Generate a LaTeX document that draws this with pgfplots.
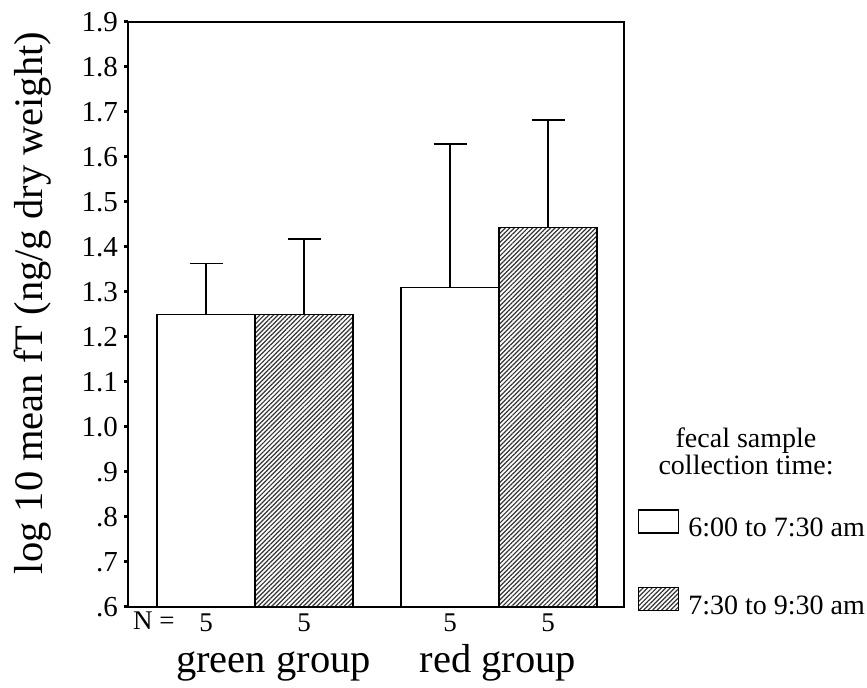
\documentclass[border=0pt]{standalone}
\usepackage{pgfplots}
\pgfplotsset{compat=1.18}
\usepackage{fontspec}
\setmainfont{Liberation Serif}
\usetikzlibrary{patterns.meta}

\begin{document}
\begin{tikzpicture}[x=1bp,y=1bp]
\useasboundingbox (0,0) rectangle (867,688);
\begin{axis}[
  at={(128bp,81bp)}, anchor=south west,
  scale only axis, width=496bp, height=585bp,
  xmin=0, xmax=496, ymin=0.6, ymax=1.9,
  axis line style={line width=1.5bp, black},
  ytick={0.6,0.7,0.8,0.9,1.0,1.1,1.2,1.3,1.4,1.5,1.6,1.7,1.8,1.9},
  yticklabels={.6,.7,.8,.9,1.0,1.1,1.2,1.3,1.4,1.5,1.6,1.7,1.8,1.9},
  ytick pos=left, xtick pos=bottom,
  tick align=outside,
  major tick length=4bp,
  y tick style={line width=3bp, black},
  yticklabel style={font=\fontsize{29bp}{32bp}\selectfont, inner xsep=2bp, xshift=-4bp},
  xtick={78,176,322,420}, xticklabels={5,5,5,5},
  x tick style={draw=none},
  xticklabel style={font=\fontsize{27bp}{30bp}\selectfont, anchor=base, yshift=-21bp},
  ybar, bar shift=0pt, bar width=98,
  legend cell align=left,
  legend image code/.code={\draw[#1] (0bp,-5bp) rectangle (40bp,18bp); \path (49bp,0bp);},
  legend style={draw=none, fill=none, inner sep=0pt, nodes={inner sep=0pt},
    at={(rel axis cs:1.028,0.1675)}, anchor=north west, row sep=49bp,
    font=\fontsize{28bp}{32bp}\selectfont},
]
\addplot[ybar, fill=white, draw=black, line width=1.3bp,
  error bars/.cd, y dir=plus, y explicit,
  error bar style={line width=1.4bp, black},
  error mark options={rotate=90, mark size=16.5bp, line width=1.4bp, black}]
  coordinates {(78,1.25) +- (0,0.113) (322,1.31) +- (0,0.319)};
\addlegendentry{6:00 to 7:30 am}
\addplot[ybar, fill=white, draw=black, line width=1.3bp,
  pattern={Lines[angle=45,distance=3.2bp,line width=1.2bp]}, pattern color=black!80,
  error bars/.cd, y dir=plus, y explicit,
  error bar style={line width=1.4bp, black},
  error mark options={rotate=90, mark size=16.5bp, line width=1.4bp, black}]
  coordinates {(176,1.25) +- (0,0.168) (420,1.444) +- (0,0.238)};
\addlegendentry{7:30 to 9:30 am}
\end{axis}
\node[rotate=90, anchor=base, font=\fontsize{40.5bp}{45bp}\selectfont] at (42,385) {log 10 mean fT (ng/g dry weight)};
\node[anchor=base west, inner sep=0pt, font=\fontsize{27bp}{30bp}\selectfont] at (133,58) {N =};
\node[anchor=base, inner sep=0pt, font=\fontsize{40.5bp}{44bp}\selectfont] at (273.5,15) {green group};
\node[anchor=base, inner sep=0pt, font=\fontsize{40.5bp}{44bp}\selectfont] at (498,15) {red group};
\node[anchor=base, inner sep=0pt, font=\fontsize{28bp}{32bp}\selectfont] at (746,240) {fecal sample};
\node[anchor=base, inner sep=0pt, font=\fontsize{28bp}{32bp}\selectfont] at (746,213) {collection time:};
\end{tikzpicture}
\end{document}
